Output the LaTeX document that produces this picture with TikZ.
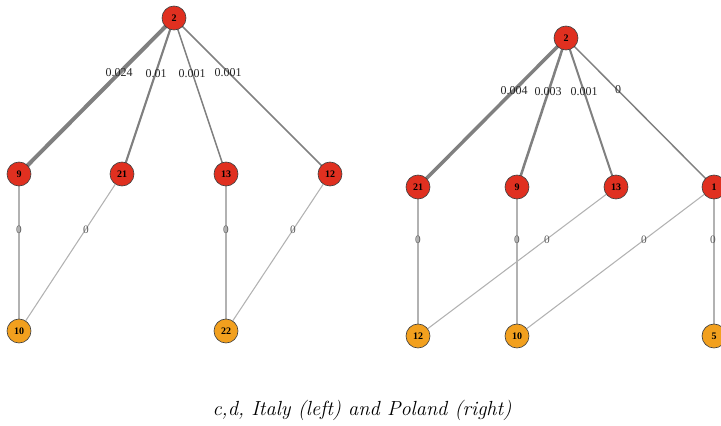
\documentclass[tikz,border=0pt]{standalone}
\usepackage{fontspec}
\usetikzlibrary{backgrounds}
\newfontfamily\labelfont{Liberation Serif}
\begin{document}
\begin{tikzpicture}[x=0.75pt,y=-0.75pt,
  vtx/.style={circle,draw=black!75,line width=0.5pt,minimum size=18pt,inner sep=0pt,
    font=\labelfont\fontsize{7.5}{8}\selectfont\bfseries,text=black},
  upper/.style={vtx,fill={rgb,255:red,224;green,48;blue,32}},
  lower/.style={vtx,fill={rgb,255:red,242;green,160;blue,30}},
  edge/.style={draw=black!50,line width=#1},
  edge/.default=1pt,
  thin edge/.style={draw=black!30,line width=0.8pt},
  wt/.style={font=\labelfont\fontsize{9}{10}\selectfont,text=black!85,inner sep=0.5pt},
  zero/.style={font=\labelfont\fontsize{8.5}{9}\selectfont,text=black!65,inner sep=0.5pt}]
\useasboundingbox (0,0) rectangle (721,425);

% ---- Italy ----
\node[upper] (a2) at (174,18) {2};
\node[upper] (a9) at (19,174) {9};
\node[upper] (a21) at (122,174) {21};
\node[upper] (a13) at (226,174) {13};
\node[upper] (a12) at (330,174) {12};
\node[lower] (a10) at (19,331) {10};
\node[lower] (a22) at (226,331) {22};

% ---- Poland ----
\node[upper] (b2) at (566,38) {2};
\node[upper] (b21) at (418,187) {21};
\node[upper] (b9) at (517,187) {9};
\node[upper] (b13) at (616,187) {13};
\node[upper] (b1) at (714,187) {1};
\node[lower] (b12) at (418,336) {12};
\node[lower] (b10) at (517,336) {10};
\node[lower] (b5) at (714,336) {5};

\begin{scope}[on background layer]
  % edges of the Italy tree
  \draw[edge=3pt] (a2.center) -- (a9.center);
  \draw[edge=1.6pt] (a2.center) -- (a21.center);
  \draw[edge=1.1pt] (a2.center) -- (a13.center);
  \draw[edge=1.1pt] (a2.center) -- (a12.center);
  \draw[thin edge] (a9) -- (a10);
  \draw[thin edge] (a21) -- (a10);
  \draw[thin edge] (a13) -- (a22);
  \draw[thin edge] (a12) -- (a22);

  % edges of the Poland tree
  \draw[edge=2.6pt] (b2.center) -- (b21.center);
  \draw[edge=1.9pt] (b2.center) -- (b9.center);
  \draw[edge=1.5pt] (b2.center) -- (b13.center);
  \draw[edge=1.1pt] (b2.center) -- (b1.center);
  \draw[thin edge] (b21) -- (b12);
  \draw[thin edge] (b13) -- (b12);
  \draw[thin edge] (b9) -- (b10);
  \draw[thin edge] (b1) -- (b10);
  \draw[thin edge] (b1) -- (b5);
\end{scope}

% edge weights
\node[wt] (w1) at (119,73) {0.024};
\node[wt] (w2) at (156,74) {0.01};
\node[wt] (w3) at (192,74) {0.001};
\node[wt] (w4) at (228,73) {0.001};
\node[zero] (z1) at (19,230) {0};
\node[zero] (z2) at (86,230) {0};
\node[zero] (z3) at (226,230) {0};
\node[zero] (z4) at (293,230) {0};

\node[wt] (v1) at (514,91) {0.004};
\node[wt] (v2) at (548,92) {0.003};
\node[wt] (v3) at (584,92) {0.001};
\node[wt] (v4) at (618,90) {0};
\node[zero] (y1) at (418,240) {0};
\node[zero] (y2) at (517,240) {0};
\node[zero] (y3) at (547,240) {0};
\node[zero] (y4) at (644,240) {0};
\node[zero] (y5) at (713,240) {0};

% caption
\node[font=\fontsize{15.3}{18}\selectfont\itshape] (cap) at (362,410) {c,d, Italy (left) and Poland (right)};
\end{tikzpicture}
\end{document}
